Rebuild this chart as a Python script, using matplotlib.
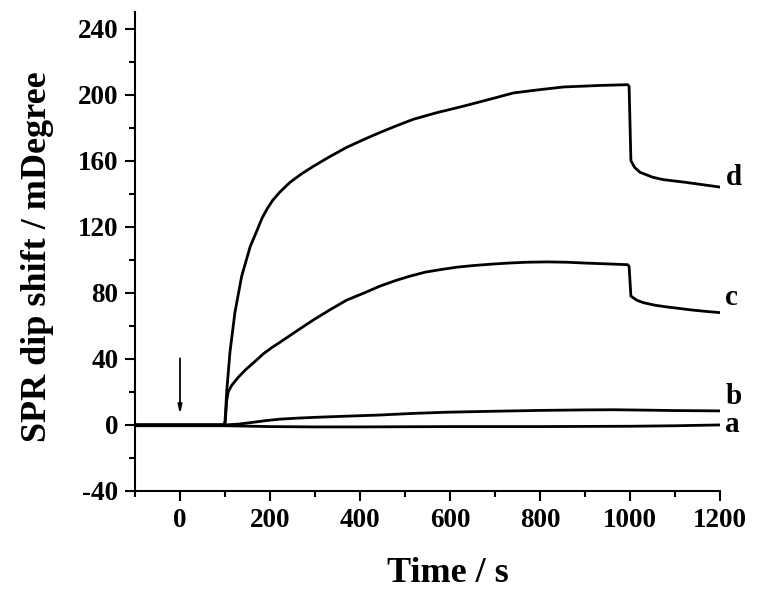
import matplotlib
matplotlib.use('Agg')
import matplotlib.pyplot as plt
from matplotlib.ticker import MultipleLocator

plt.rcParams['font.family'] = ['Liberation Serif', 'DejaVu Serif']
plt.rcParams['font.weight'] = 'bold'
plt.rcParams['axes.unicode_minus'] = False

# curve d
t_d = [-100, 0, 97, 100, 104, 111, 122, 137, 156, 170, 182, 194, 206, 222, 245, 270,
       296, 330, 370, 410, 444, 480, 518, 570, 630, 700, 741, 800, 852, 930, 995, 998,
       1002, 1010, 1022, 1050, 1074, 1120, 1160, 1200]
v_d = [0, 0, 0, 2, 21, 44, 68, 90, 108, 117, 125, 131, 136, 141, 147, 152,
       156.5, 162, 168, 173, 177, 181, 185, 189, 193, 198, 201, 203, 204.6, 205.5, 206, 205,
       160, 156, 153, 150, 148.5, 147, 145.5, 144]

# curve c
t_c = [-100, 0, 100, 104, 107, 115, 130, 148, 165, 185, 205, 222, 260, 296, 335, 370,
       410, 444, 480, 510, 545, 578, 615, 652, 690, 730, 770, 815, 860, 900, 950, 995,
       998, 1002, 1015, 1030, 1055, 1080, 1110, 1140, 1170, 1200]
v_c = [0, 0, 0, 15, 20, 24, 29, 34, 38, 43, 47, 50, 57, 63.5, 70, 75.5,
       80, 84, 87.5, 90, 92.5, 94, 95.5, 96.5, 97.3, 98, 98.5, 98.7, 98.5, 98, 97.5, 97,
       96, 78, 75.5, 74, 72.5, 71.5, 70.5, 69.5, 68.7, 68]

# curve b
t_b = [-100, 0, 100, 130, 160, 190, 222, 260, 300, 370, 444, 520, 593, 700, 800, 900,
       963, 1050, 1100, 1200]
v_b = [0, 0, 0, 0.5, 1.5, 2.6, 3.5, 4.1, 4.6, 5.3, 6, 7, 7.7, 8.3, 8.8, 9.1,
       9.2, 8.9, 8.7, 8.5]

# curve a
t_a = [-100, 0, 100, 200, 300, 400, 500, 600, 700, 800, 900, 1000, 1100, 1200]
v_a = [-0.5, -0.5, -0.5, -1, -1.2, -1.2, -1.1, -1, -1, -1, -0.9, -0.8, -0.5, 0]

curve_labels = ['a', 'b', 'c', 'd']
label_y = [0, 17, 77, 150]

fig = plt.figure(figsize=(7.68, 6), dpi=100)
ax = fig.add_axes([135 / 768, 1 - 491 / 600, 585 / 768, 479 / 600])

for t, v in [(t_a, v_a), (t_b, v_b), (t_c, v_c), (t_d, v_d)]:
    ax.plot(t, v, color='black', lw=2.0, solid_joinstyle='round')

for lab, y in zip(curve_labels, label_y):
    ax.text(1212, y, lab, fontsize=21, fontweight='bold', va='center', ha='left',
            clip_on=False)

# injection arrow
ax.annotate('', xy=(0, 5), xytext=(0, 42),
            arrowprops=dict(arrowstyle='-|>,head_length=0.5,head_width=0.12',
                            color='black', lw=1.3))

ax.set_xlim(-100, 1200)
ax.set_ylim(-40, 250)
ax.xaxis.set_major_locator(MultipleLocator(200))
ax.xaxis.set_minor_locator(MultipleLocator(100))
ax.yaxis.set_major_locator(MultipleLocator(40))
ax.yaxis.set_minor_locator(MultipleLocator(20))
ax.set_yticks([-40, 0, 40, 80, 120, 160, 200, 240])

for s in ['top', 'right']:
    ax.spines[s].set_visible(False)
for s in ['left', 'bottom']:
    ax.spines[s].set_linewidth(1.5)

ax.tick_params(which='major', direction='out', length=7, width=1.5,
               labelsize=19.5, pad=5)
ax.tick_params(which='minor', direction='out', length=4.5, width=1.5)
for lbl in ax.get_xticklabels() + ax.get_yticklabels():
    lbl.set_fontweight('bold')

fig.text(448 / 768, 1 - 582 / 600, 'Time / s', fontsize=26, fontweight='bold',
         ha='center', va='baseline')
fig.text(38 / 768, 1 - 257 / 600, 'SPR dip shift / mDegree', fontsize=26,
         fontweight='bold', rotation=90, ha='center', va='center')

fig.savefig('out.png', dpi=100)
